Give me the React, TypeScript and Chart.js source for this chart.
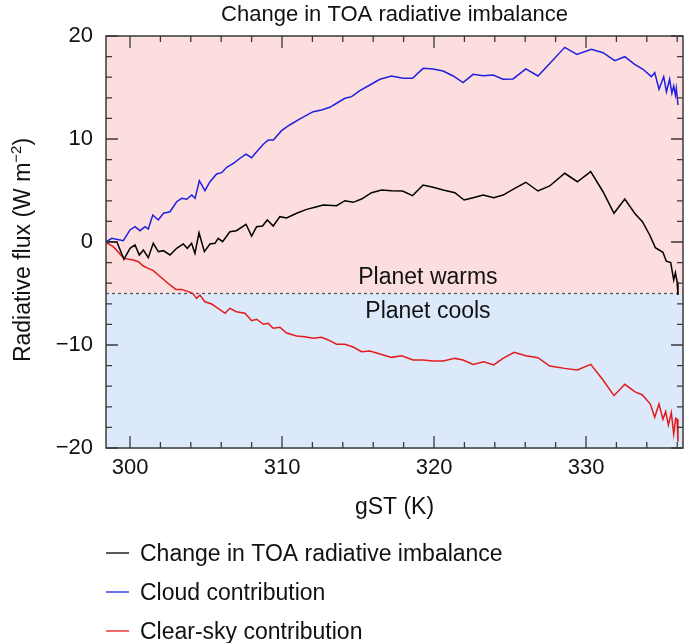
import React, { useEffect, useRef } from 'react';
import { Chart, registerables } from 'chart.js';

Chart.register(...registerables);

const FONT = '"Liberation Sans", Arial, Helvetica, sans-serif';
const TEXT_COLOR = '#111111';
const FRAME_COLOR = '#3a3a3a';
const WARM_BG = '#fddede';
const COOL_BG = '#dce9fa';

const TITLE = 'Change in TOA radiative imbalance';
const X_TITLE = 'gST (K)';
const Y_TITLE_MAIN = 'Radiative flux (W m';
const Y_TITLE_SUP = '\u22122';
const Y_TITLE_END = ')';
const LABEL_WARM = 'Planet warms';
const LABEL_COOL = 'Planet cools';

const X_MIN = 298.42;
const X_MAX = 336.38;
const Y_MIN = -20;
const Y_MAX = 20;
const BOUNDARY = -5;
const REGION_LABEL_X = 319.6;
const TICK_STEP = 2;
const MAJOR_STEP = 10;

const SERIES_LABELS = ['Change in TOA radiative imbalance', 'Cloud contribution', 'Clear-sky contribution'];
const SERIES_COLORS = ['#000000', '#1f1fe0', '#e31b1b'];

// Change in TOA radiative imbalance (black)
const netT = [298.42, 299.13, 299.6, 300.0, 300.33, 300.61, 300.88, 301.2, 301.53, 301.86, 302.19, 302.63, 303.07, 303.5, 303.77, 304.05, 304.27, 304.54, 304.89, 305.26, 305.59, 305.8, 306.09, 306.57, 307.0, 307.63, 308.0, 308.33, 308.72, 309.03, 309.42, 309.86, 310.3, 310.96, 311.62, 312.16, 312.71, 313.59, 314.14, 314.68, 315.23, 315.89, 316.55, 317.2, 317.93, 318.59, 319.28, 319.94, 320.6, 321.37, 321.98, 322.57, 323.23, 323.93, 324.54, 325.31, 326.04, 326.84, 327.61, 328.6, 329.43, 330.31, 331.12, 331.84, 332.55, 333.2, 333.71, 334.19, 334.56, 335.06, 335.28, 335.57, 335.77, 335.88, 335.99, 336.05];
const netV = [0, 0.03, -1.68, -0.61, -0.29, -1.26, -0.78, -1.52, -0.13, -0.94, -0.84, -1.26, -0.61, -0.19, -0.61, -0.13, -1.1, 0.9, -0.94, -0.19, -0.13, 0.36, 0.03, 1.0, 1.1, 1.72, 0.58, 1.49, 1.55, 2.14, 1.55, 2.46, 2.33, 2.79, 3.17, 3.37, 3.59, 3.53, 4.01, 3.85, 4.17, 4.79, 5.05, 4.98, 4.95, 4.5, 5.53, 5.31, 5.05, 4.79, 4.08, 4.3, 4.56, 4.3, 4.56, 5.21, 5.8, 4.95, 5.44, 6.67, 5.85, 6.83, 4.88, 2.79, 4.17, 2.79, 1.97, 0.68, -0.55, -1.0, -1.86, -2.0, -3.69, -2.98, -3.85, -5.15];

// Cloud contribution (blue)
const cloudT = [298.42, 298.8, 299.56, 300.0, 300.33, 300.66, 300.99, 301.2, 301.5, 301.86, 302.2, 302.63, 303.07, 303.4, 303.73, 304.06, 304.28, 304.56, 304.93, 305.26, 305.7, 306.03, 306.36, 306.8, 307.24, 307.63, 308.0, 308.33, 308.77, 309.1, 309.43, 309.97, 310.5, 311.18, 312.05, 312.6, 313.15, 313.59, 314.14, 314.58, 315.12, 315.78, 316.44, 317.2, 317.97, 318.59, 319.28, 319.94, 320.6, 321.26, 321.91, 322.57, 323.23, 323.89, 324.54, 325.2, 326.04, 326.84, 327.72, 328.6, 329.4, 330.35, 331.12, 331.89, 332.55, 333.2, 333.75, 334.3, 334.52, 334.8, 335.11, 335.29, 335.5, 335.65, 335.77, 335.88, 335.94, 336.05];
const cloudV = [0, 0.36, 0.13, 1.17, 1.49, 1.1, 1.49, 1.26, 2.62, 2.14, 2.79, 2.94, 3.91, 4.24, 4.15, 4.56, 4.24, 5.95, 4.98, 5.85, 6.6, 6.73, 7.25, 7.64, 8.13, 8.54, 8.18, 8.77, 9.49, 9.9, 9.9, 10.81, 11.36, 11.96, 12.65, 12.82, 13.08, 13.47, 13.95, 14.11, 14.69, 15.24, 15.8, 16.12, 15.89, 15.89, 16.86, 16.8, 16.6, 16.12, 15.47, 16.28, 16.15, 16.21, 15.8, 15.83, 16.8, 16.12, 17.5, 18.9, 18.22, 18.71, 18.38, 17.6, 17.99, 17.25, 16.77, 16.05, 16.44, 14.83, 16.05, 14.59, 15.8, 14.44, 15.15, 14.27, 14.92, 13.3];

// Clear-sky contribution (red)
const clearT = [298.42, 298.9, 299.6, 300.22, 300.55, 300.88, 301.2, 301.53, 301.86, 302.19, 302.63, 303.02, 303.4, 303.83, 304.12, 304.38, 304.6, 304.93, 305.37, 305.7, 306.25, 306.57, 307.0, 307.56, 308.0, 308.33, 308.77, 309.09, 309.42, 309.86, 310.3, 310.96, 311.5, 312.05, 312.6, 313.04, 313.59, 314.14, 314.68, 315.23, 315.78, 316.44, 317.2, 317.86, 318.63, 319.28, 319.94, 320.6, 321.37, 321.91, 322.57, 323.27, 323.93, 324.54, 325.27, 326.04, 326.84, 327.61, 328.6, 329.43, 330.31, 331.12, 331.84, 332.55, 333.2, 333.71, 334.23, 334.52, 334.8, 335.06, 335.24, 335.42, 335.61, 335.77, 335.9, 335.99, 336.05];
const clearV = [-0.06, -0.45, -1.59, -1.75, -1.91, -2.33, -2.56, -2.78, -3.2, -3.62, -4.17, -4.6, -4.6, -4.82, -4.98, -5.47, -5.15, -5.8, -6.02, -6.34, -6.92, -6.44, -6.77, -6.92, -7.64, -7.5, -7.99, -7.9, -8.38, -8.28, -8.84, -9.13, -9.19, -9.35, -9.25, -9.51, -9.93, -9.93, -10.2, -10.65, -10.58, -10.87, -11.2, -11.04, -11.46, -11.46, -11.55, -11.55, -11.3, -11.46, -11.88, -11.62, -11.94, -11.3, -10.71, -11.04, -11.23, -12.04, -12.27, -12.43, -11.88, -13.4, -14.92, -13.82, -14.53, -14.85, -15.73, -17.02, -15.73, -17.21, -16.47, -17.77, -16.57, -18.64, -17.12, -17.21, -19.39];

const toPoints = (xs: number[], ys: number[]) => xs.map((x, i) => ({ x, y: ys[i] }));
const fmtNum = (v: number) => (v < 0 ? '\u2212' + Math.abs(v) : String(v));
const isMajor = (v: number) => Math.abs(v % MAJOR_STEP) < 1e-6;

const decorPlugin = {
  id: 'decor',
  beforeDatasetsDraw(chart: any) {
    const { ctx, chartArea, scales } = chart;
    const { left, right, top, bottom } = chartArea;
    const yb = scales.y.getPixelForValue(BOUNDARY);
    ctx.save();
    ctx.fillStyle = WARM_BG;
    ctx.fillRect(left, top, right - left, yb - top);
    ctx.fillStyle = COOL_BG;
    ctx.fillRect(left, yb, right - left, bottom - yb);
    ctx.strokeStyle = '#555555';
    ctx.lineWidth = 1.3;
    ctx.setLineDash([3, 3]);
    ctx.beginPath();
    ctx.moveTo(left, yb);
    ctx.lineTo(right, yb);
    ctx.stroke();
    ctx.setLineDash([]);
    ctx.fillStyle = TEXT_COLOR;
    ctx.font = `23px ${FONT}`;
    ctx.textAlign = 'center';
    ctx.textBaseline = 'alphabetic';
    const tx = scales.x.getPixelForValue(REGION_LABEL_X);
    ctx.fillText(LABEL_WARM, tx, yb - 9.5);
    ctx.fillText(LABEL_COOL, tx, yb + 24.5);
    ctx.restore();
  },
  afterDatasetsDraw(chart: any) {
    const { ctx, chartArea, scales } = chart;
    const { left, right, top, bottom } = chartArea;
    ctx.save();
    ctx.strokeStyle = FRAME_COLOR;
    ctx.lineWidth = 1.5;
    ctx.strokeRect(left, top, right - left, bottom - top);
    ctx.lineWidth = 1.3;
    ctx.beginPath();
    scales.x.ticks.forEach((t: any) => {
      const px = scales.x.getPixelForValue(t.value);
      const len = isMajor(t.value) ? 12 : 6;
      ctx.moveTo(px, bottom);
      ctx.lineTo(px, bottom - len);
      ctx.moveTo(px, top);
      ctx.lineTo(px, top + len);
    });
    scales.y.ticks.forEach((t: any) => {
      const py = scales.y.getPixelForValue(t.value);
      const len = isMajor(t.value) ? 12 : 6;
      ctx.moveTo(left, py);
      ctx.lineTo(left + len, py);
      ctx.moveTo(right, py);
      ctx.lineTo(right - len, py);
    });
    ctx.stroke();
    ctx.restore();
  },
  afterDraw(chart: any) {
    const { ctx, chartArea } = chart;
    const { left, right } = chartArea;
    ctx.save();
    ctx.fillStyle = TEXT_COLOR;
    // title
    ctx.font = `22px ${FONT}`;
    ctx.textAlign = 'center';
    ctx.textBaseline = 'alphabetic';
    ctx.fillText(TITLE, (left + right) / 2, 21);
    // y-axis title with superscript
    const mainFont = `23px ${FONT}`;
    const supFont = `15px ${FONT}`;
    ctx.font = mainFont;
    const w1 = ctx.measureText(Y_TITLE_MAIN).width;
    const w3 = ctx.measureText(Y_TITLE_END).width;
    ctx.font = supFont;
    const w2 = ctx.measureText(Y_TITLE_SUP).width;
    const total = w1 + w2 + w3;
    ctx.translate(29.5, 250);
    ctx.rotate(-Math.PI / 2);
    ctx.textAlign = 'left';
    let x0 = -total / 2;
    ctx.font = mainFont;
    ctx.fillText(Y_TITLE_MAIN, x0, 0);
    x0 += w1;
    ctx.font = supFont;
    ctx.fillText(Y_TITLE_SUP, x0, -9);
    x0 += w2;
    ctx.font = mainFont;
    ctx.fillText(Y_TITLE_END, x0, 0);
    ctx.restore();

    // legend
    ctx.save();
    ctx.font = `23px ${FONT}`;
    ctx.textAlign = 'left';
    ctx.textBaseline = 'alphabetic';
    chart.data.datasets.forEach((ds: any, i: number) => {
      const cy = 553 + i * 39;
      ctx.strokeStyle = ds.borderColor;
      ctx.lineWidth = 1.3;
      ctx.beginPath();
      ctx.moveTo(106, cy);
      ctx.lineTo(129, cy);
      ctx.stroke();
      ctx.fillStyle = TEXT_COLOR;
      ctx.fillText(ds.label, 140, cy + 7.5);
    });
    ctx.restore();
  },
};

export default function App() {
  const ref = useRef<HTMLCanvasElement>(null);
  useEffect(() => {
    document.body.style.margin = '0';
    const canvas = ref.current;
    if (!canvas) return;
    const chart = new Chart(canvas, {
      type: 'line',
      data: {
        datasets: [
          { label: SERIES_LABELS[0], data: toPoints(netT, netV), borderColor: SERIES_COLORS[0], borderWidth: 1.5, pointRadius: 0, tension: 0, fill: false },
          { label: SERIES_LABELS[1], data: toPoints(cloudT, cloudV), borderColor: SERIES_COLORS[1], borderWidth: 1.5, pointRadius: 0, tension: 0, fill: false },
          { label: SERIES_LABELS[2], data: toPoints(clearT, clearV), borderColor: SERIES_COLORS[2], borderWidth: 1.5, pointRadius: 0, tension: 0, fill: false },
        ],
      },
      options: {
        responsive: false,
        animation: false,
        devicePixelRatio: 1,
        layout: { padding: { top: 36, right: 2, bottom: 100, left: 0 } },
        plugins: { legend: { display: false }, title: { display: false }, tooltip: { enabled: false } },
        scales: {
          x: {
            type: 'linear',
            min: X_MIN,
            max: X_MAX,
            grid: { display: false, drawTicks: false },
            border: { display: false },
            ticks: {
              stepSize: TICK_STEP,
              includeBounds: false,
              autoSkip: false,
              maxRotation: 0,
              minRotation: 0,
              padding: 7,
              color: TEXT_COLOR,
              font: { family: FONT, size: 22 },
              callback: (v: any) => (isMajor(Number(v)) ? fmtNum(Number(v)) : ''),
            },
            title: { display: true, text: X_TITLE, color: TEXT_COLOR, font: { family: FONT, size: 23 }, padding: { top: 0, bottom: 22 } },
            afterFit: (s: any) => { s.height = 95; },
          },
          y: {
            type: 'linear',
            min: Y_MIN,
            max: Y_MAX,
            grid: { display: false, drawTicks: false },
            border: { display: false },
            ticks: {
              stepSize: TICK_STEP,
              includeBounds: false,
              autoSkip: false,
              padding: 13,
              color: TEXT_COLOR,
              font: { family: FONT, size: 22 },
              callback: (v: any) => (isMajor(Number(v)) ? fmtNum(Number(v)) : ''),
            },
            afterFit: (s: any) => { s.width = 106; },
          },
        },
      },
      plugins: [decorPlugin],
    } as any);
    return () => chart.destroy();
  }, []);
  return <canvas ref={ref} width={685} height={643} style={{ display: 'block', width: 685, height: 643 }} />;
}
